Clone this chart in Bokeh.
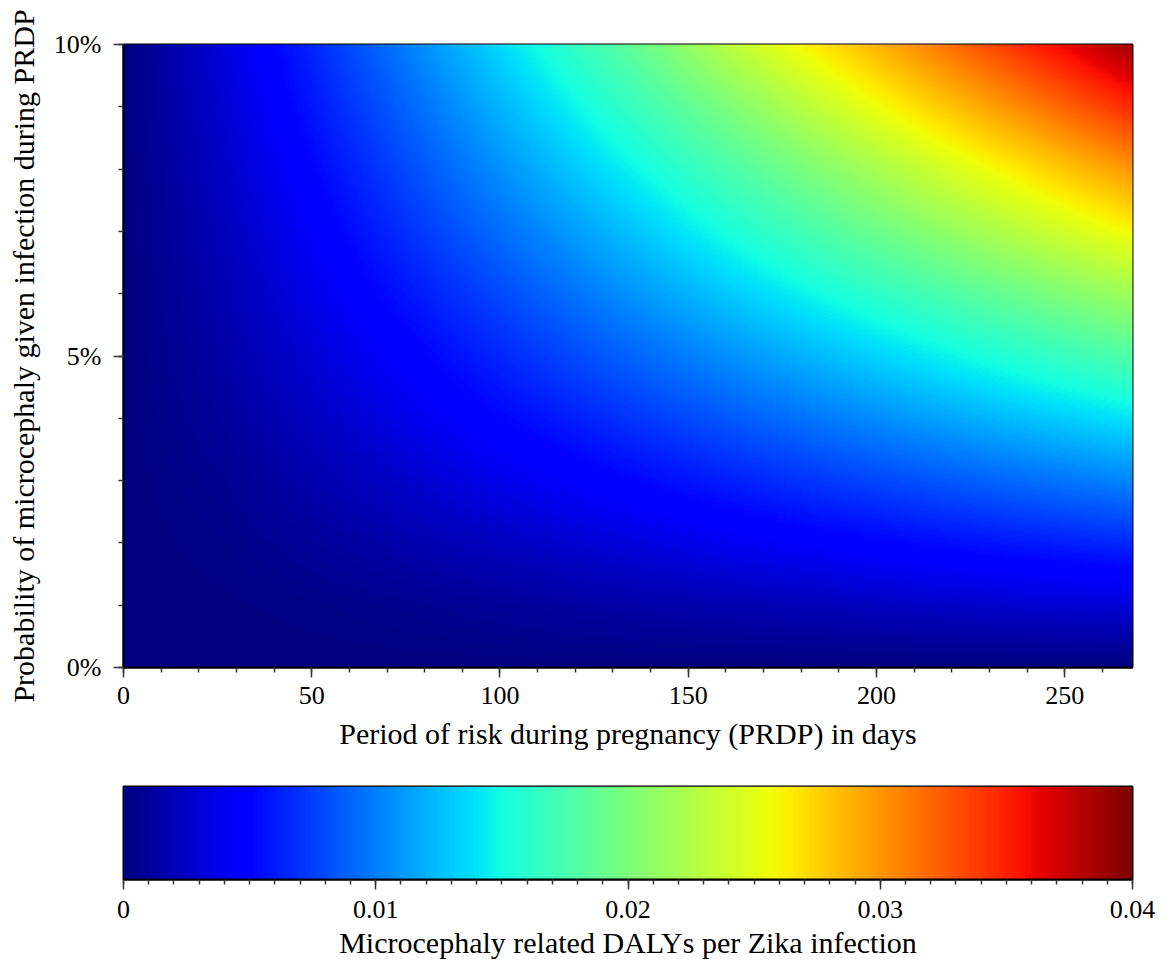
import numpy as np
from bokeh.plotting import figure
from bokeh.layouts import column
from bokeh.models import (LinearColorMapper, Range1d, SingleIntervalTicker,
                          PrintfTickFormatter, NumeralTickFormatter, FixedTicker)
from bokeh.embed import file_html
from bokeh.resources import INLINE

# ---- values (DALYs per Zika infection) ----
PRDP_DAYS = [0, 26.8, 53.6, 80.4, 107.2, 134.0, 160.8, 187.6, 214.4, 241.2, 268.0]
PROB_PCT = [0, 1, 2, 3, 4, 5, 6, 7, 8, 9, 10]
# rows: probability 0%..10%, columns: PRDP_DAYS (values in 1e-3 DALYs)
DALY_MILLI = [
    [0.0, 0.0, 0.0, 0.0, 0.0, 0.0, 0.0, 0.0, 0.0, 0.0, 0.0],
    [0.0, 0.1, 0.3, 0.6, 1.0, 1.4, 1.75, 2.1, 2.5, 2.8, 3.1],
    [0.0, 0.3, 1.0, 1.75, 2.5, 3.25, 4.0, 4.7, 5.4, 6.0, 6.6],
    [0.0, 0.6, 1.75, 2.9, 4.0, 5.1, 6.2, 7.3, 8.3, 9.3, 10.3],
    [0.0, 1.0, 2.5, 4.0, 5.5, 7.0, 8.5, 9.9, 11.3, 12.7, 14.0],
    [0.0, 1.4, 3.25, 5.1, 7.0, 8.9, 10.7, 12.5, 14.3, 16.1, 17.9],
    [0.0, 1.75, 4.0, 6.25, 8.5, 10.75, 13.0, 15.2, 17.4, 19.6, 21.8],
    [0.0, 2.1, 4.75, 7.4, 10.0, 12.6, 15.3, 18.0, 20.7, 23.3, 25.9],
    [0.0, 2.5, 5.5, 8.5, 11.5, 14.5, 17.6, 20.7, 23.8, 26.9, 30.1],
    [0.0, 2.9, 6.25, 9.6, 13.0, 16.5, 20.1, 23.8, 27.4, 31.0, 34.7],
    [0.0, 3.25, 7.0, 10.75, 14.6, 18.5, 23.0, 27.0, 30.9, 34.9, 39.0],
]
CBAR_TICKS = [0, 0.01, 0.02, 0.03, 0.04]
X_TICK_STEP = 50
Y_TICK_STEP = 5

FONT = "Liberation Serif"
TICK_FS = "26px"
LABEL_FS = "30px"

# jet colour map (style)
def jet_palette(n=256):
    t = np.linspace(0, 1, n)
    r = np.interp(t, [0, 0.35, 0.66, 0.89, 1], [0, 0, 1, 1, 0.5])
    g = np.interp(t, [0, 0.125, 0.375, 0.64, 0.91, 1], [0, 0, 1, 1, 0, 0])
    b = np.interp(t, [0, 0.11, 0.34, 0.65, 1], [0.5, 1, 1, 0, 0])
    return ["#%02x%02x%02x" % (int(round(a * 255)), int(round(c * 255)), int(round(d * 255)))
            for a, c, d in zip(r, g, b)]

mapper = LinearColorMapper(palette=jet_palette(), low=CBAR_TICKS[0], high=CBAR_TICKS[-1])

Z = np.array(DALY_MILLI) / 1000.0
xs = np.array(PRDP_DAYS)
ys = np.array(PROB_PCT, dtype=float)

# display resampling of the read grid (like imshow's bilinear interpolation)
NXF, NYF = 505, 312
xf = np.linspace(xs[0], xs[-1], NXF)
yf = np.linspace(ys[0], ys[-1], NYF)
tmp = np.array([np.interp(xf, xs, row) for row in Z])
Zf = np.array([np.interp(yf, ys, tmp[:, k]) for k in range(NXF)]).T.astype(np.float32)
cwx = (xs[-1] - xs[0]) / (NXF - 1)
cwy = (ys[-1] - ys[0]) / (NYF - 1)

def style_axis(ax):
    ax.axis_line_color = "black"
    ax.axis_line_width = 2
    ax.major_tick_out = 10
    ax.major_tick_in = 0
    ax.minor_tick_out = 5
    ax.minor_tick_in = 0
    ax.major_tick_line_color = "#333333"
    ax.minor_tick_line_color = "#333333"
    ax.major_tick_line_width = 1.5
    ax.minor_tick_line_width = 1.5
    ax.major_label_text_font = FONT
    ax.major_label_text_font_size = TICK_FS
    ax.major_label_text_color = "black"
    ax.axis_label_text_font = FONT
    ax.axis_label_text_font_size = LABEL_FS
    ax.axis_label_text_font_style = "normal"
    ax.axis_label_text_color = "black"

p = figure(width=1172, height=760, output_backend="svg", toolbar_location=None,
           x_range=Range1d(xs[0], xs[-1]), y_range=Range1d(ys[0], ys[-1]),
           min_border_left=123, min_border_right=40, min_border_top=44, min_border_bottom=93)
p.image(image=[Zf], x=xs[0] - cwx / 2, y=ys[0] - cwy / 2,
        dw=(xs[-1] - xs[0]) + cwx, dh=(ys[-1] - ys[0]) + cwy, color_mapper=mapper)
p.grid.visible = False
p.outline_line_color = "black"
p.outline_line_width = 2
p.outline_line_alpha = 1
p.xaxis.ticker = SingleIntervalTicker(interval=X_TICK_STEP, num_minor_ticks=5)
p.yaxis.ticker = SingleIntervalTicker(interval=Y_TICK_STEP, num_minor_ticks=5)
p.yaxis.formatter = PrintfTickFormatter(format="%d%%")
p.xaxis.axis_label = "Period of risk during pregnancy (PRDP) in days"
p.yaxis.axis_label = "Probability of microcephaly given infection during PRDP"
style_axis(p.xaxis[0])
style_axis(p.yaxis[0])
p.xaxis.major_label_standoff = 9
p.yaxis.major_label_standoff = 12
p.xaxis.axis_label_standoff = 10
p.yaxis.axis_label_standoff = 11
p.background_fill_color = "white"
p.border_fill_color = "white"

# colour bar as its own figure
cb = figure(width=1172, height=206, output_backend="svg", toolbar_location=None,
            x_range=Range1d(CBAR_TICKS[0], CBAR_TICKS[-1]), y_range=Range1d(0, 1),
            min_border_left=123, min_border_right=40, min_border_top=26, min_border_bottom=87)
grad = np.linspace(CBAR_TICKS[0], CBAR_TICKS[-1], 1009)[None, :]
cb.image(image=[grad], x=CBAR_TICKS[0], y=0, dw=CBAR_TICKS[-1] - CBAR_TICKS[0], dh=1,
         color_mapper=mapper)
cb.grid.visible = False
cb.yaxis.visible = False
cb.outline_line_color = "black"
cb.outline_line_width = 2
cb.outline_line_alpha = 1
cb.xaxis.ticker = FixedTicker(ticks=CBAR_TICKS,
                              minor_ticks=[i * 0.001 for i in range(41)])
cb.xaxis.formatter = NumeralTickFormatter(format="0.[00]")
cb.xaxis.axis_label = "Microcephaly related DALYs per Zika infection"
style_axis(cb.xaxis[0])
cb.xaxis.major_label_standoff = 11
cb.xaxis.axis_label_standoff = 5

layout = column(p, cb, spacing=0)
open("out.html", "w").write(file_html(layout, INLINE))
